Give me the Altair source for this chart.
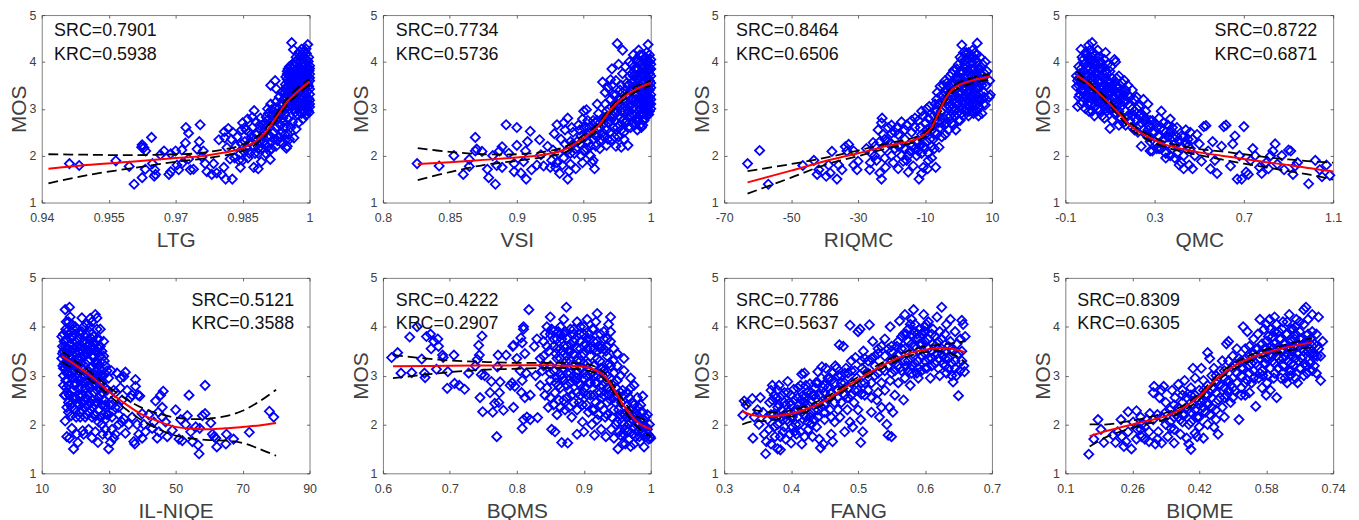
import altair as alt
import pandas as pd

LTG_PTS = [(.9462,1.83),(.9484,1.79),(.9566,1.89),(.9596,1.77),(.9607,1.39),(.9625,1.53),(.9625,2.23),(.9624,2.18),(.9629,2.17),(.9633,2.1),(.9632,1.71),(.9646,2.39),(.9648,1.83),(.9653,1.7),(.9655,1.6),(.9652,1.56),(.9666,2.02),(.9674,2.1),(.9685,1.6),(.9689,1.66),(.9689,2.04),(.97,2.1),(.9703,1.8),(.9707,1.7),(.9714,2.12),(.9722,2.27),(.9723,2.6),(.9729,2.48),(.9714,1.83),(.9729,1.93),(.9733,1.7),(.974,1.71),(.9755,2.66),(.9753,2.3),(.9748,2.14),(.9762,2.1),(.9759,1.97),(.9766,1.83),(.977,1.66),(.9781,1.6),(.9785,1.83),(.9792,1.63),(.9797,2.34),(.9803,1.6),(.9809,2.51),(.9818,2.58),(.9812,1.5),(.9827,1.5),(.9822,1.93),(.9815,2.17),(.981,2.38),(.9808,1.75),
(.9825,2.35),(.9835,2.2),(.9845,2.05),(.9848,2.55),(.985,2.7),(.9845,1.75),(.985,1.9),(.9855,2.3),(.986,2.15),(.9862,1.95),(.9865,2.5),(.9861,2.78),(.987,2.4),(.9872,2.6),(.9875,2.2),(.9875,1.75),(.9878,2.05),(.9882,2.45),(.9876,2.96),(.9885,1.72),(.9888,2.65),(.989,2.3),(.989,2.8),(.9892,1.87),(.9895,2.15),(.9898,2.5),(.99,2.7),(.99,2.25),(.9903,2.82),(.9905,2.4),(.991,2.1),(.991,2.6),(.9915,2.3),(.9918,2.75),(.992,2.5),(.9913,3.1),(.9912,1.92),(.9925,2.2),(.9925,2.9),(.9913,3.5),(.993,3.0),(.9932,2.4),(.9935,2.65),(.9923,3.6),(.9925,3.43),(.9935,3.1),(.994,2.8),(.9938,3.35),(.994,2.25),(.9941,2.95),(.9942,2.6),(.9945,2.45),(.995,2.2),(.9948,2.16),(.9955,2.35),(.9965,2.38),(.997,2.57),
(.9960,4.41),(.9964,4.26),(.9996,4.37),(.9982,4.27),(.9975,4.18),(.9986,4.2),(.9993,4.18),(.997,4.1),(.998,4.12),(.999,4.08),(.9998,4.1),(.9968,4.0),(.9978,4.02),(.9988,3.99),(.9997,4.01),(.9955,3.9),(.9964,3.92),(.9975,3.88),(.9985,3.91),(.9994,3.89),(1.0,3.92),(.995,3.8),(.996,3.78),(.997,3.82),(.998,3.79),(.999,3.8),(.9999,3.81),(.9947,3.68),(.9956,3.7),(.9966,3.67),(.9976,3.7),(.9986,3.68),(.9996,3.69),(.9952,3.58),(.9962,3.56),(.9972,3.59),(.9982,3.57),(.9992,3.58),(1.0,3.6),(.9948,3.46),(.9958,3.48),(.9968,3.45),(.9978,3.47),(.9988,3.46),(.9998,3.48),(.9945,3.35),(.9955,3.37),(.9965,3.34),(.9975,3.36),(.9985,3.35),(.9995,3.37),(.9948,3.24),(.9958,3.22),(.9968,3.25),(.9978,3.23),(.9988,3.24),(.9998,3.22),(.995,3.12),(.996,3.1),(.997,3.13),(.998,3.11),(.999,3.12),(1.0,3.1),(.9955,3.0),(.9965,2.98),(.9975,3.01),(.9985,2.99),(.9995,3.0),(.9972,2.88),(.9982,2.9),(.9992,2.86),(.9999,2.92),(.9962,2.72),(.9975,2.7),(.9985,2.78)]
LTG_EXTRA = [(.9978,4.22),(.9992,4.28),(.9974,4.06),(.9984,4.05),(.9994,4.04),(.9962,3.96),(.9972,3.95),(.9982,3.96),(.9992,3.95),(.9952,3.85),(.9962,3.85),(.9972,3.86),(.9982,3.84),(.9992,3.85),(1.0,3.86),(.995,3.74),(.996,3.74),(.997,3.75),(.998,3.74),(.999,3.75),(1.0,3.74),(.995,3.63),(.996,3.62),(.997,3.64),(.998,3.63),(.999,3.62),(1.0,3.66),(.9946,3.52),(.9956,3.53),(.9966,3.52),(.9976,3.53),(.9986,3.52),(.9996,3.53),(.9946,3.41),(.9958,3.42),(.997,3.41),(.998,3.42),(.999,3.41),(1.0,3.42),(.995,3.3),(.996,3.29),(.997,3.3),(.998,3.29),(.999,3.3),(1.0,3.31),(.9952,3.17),(.9962,3.18),(.9972,3.17),(.9982,3.18),(.9992,3.17),(1.0,3.18),(.9952,3.05),(.9962,3.05),(.9972,3.06),(.9982,3.05),(.9992,3.06),(1.0,3.04),(.9968,2.93),(.9978,2.94),(.9988,2.94),(.9997,2.96),
(.9885,2.15),(.9868,2.3),(.9878,2.35),(.989,2.55),(.988,2.72),(.9895,2.42),(.9905,2.62),(.9905,2.18),(.9912,2.42),(.9916,2.85),(.9925,2.6),(.993,2.8),(.9928,2.32),(.9922,3.02),(.9935,2.9),(.9932,3.25),(.9938,2.5),(.9942,3.2),(.9942,2.72),(.9945,3.02),(.9945,2.88),(.9948,2.6),(.9952,2.78),(.9958,2.6),(.9952,2.45),(.9906,3.0),(.9915,2.98),(.9925,3.15),(.9908,2.9),(.9898,2.3),(.9865,2.05),(.9858,2.55),(.9885,2.05),(.9855,2.6),(.9848,2.25),(.9838,2.4),(.9842,1.9),(.9832,1.95),(.9828,2.5),(.9872,2.82),(.9852,2.1),(.9895,2.65),(.9902,2.05),(.992,2.35),(.9935,2.3),(.9948,2.35),(.9925,2.78),(.9915,2.15),(.9942,3.1),(.9905,2.75)]
LTG_RED = [(.9415,1.72),(.95,1.8),(.96,1.87),(.97,1.95),(.975,1.98),(.98,2.05),(.984,2.13),(.987,2.25),(.99,2.48),(.993,2.88),(.995,3.15),(.998,3.42),(1.0,3.58)]
LTG_UP = [(.9415,2.03),(.95,2.02),(.96,2.01),(.97,2.03),(.975,2.05),(.98,2.12),(.984,2.2),(.987,2.33),(.99,2.56),(.993,2.95),(.995,3.22),(.998,3.5),(1.0,3.63)]
LTG_LO = [(.9415,1.41),(.95,1.58),(.96,1.73),(.97,1.87),(.975,1.92),(.98,1.99),(.984,2.07),(.987,2.18),(.99,2.42),(.993,2.82),(.995,3.09),(.998,3.36),(1.0,3.52)]

VSI_PTS = [(.8255,1.83),(.842,1.78),(.853,2.0),(.86,1.6),(.8645,1.77),(.8645,1.92),(.869,2.39),(.869,2.1),(.87,2.14),(.874,2.09),(.878,1.71),(.879,1.53),(.882,2.0),(.884,1.39),(.885,1.79),(.887,2.1),(.889,2.19),(.889,1.75),(.892,2.66),(.894,2.05),(.9,2.6),(.9,2.22),(.898,1.83),(.898,1.66),(.903,1.63),(.9065,2.1),(.907,1.5),(.91,2.52),(.908,2.3),(.905,1.87),(.911,1.7),(.917,2.34),(.915,1.8),(.918,2.02),(.92,1.78),(.923,2.2),(.925,1.75),(.927,2.12),(.928,2.47),(.93,2.66),(.93,1.85),(.932,1.62),(.933,2.35),(.935,2.7),(.935,1.95),(.936,2.55),(.937,2.1),(.938,1.5),(.938,2.8),(.939,1.67),(.94,2.3),(.94,1.82),(.942,2.5),(.943,2.05),(.944,1.72),(.946,2.65),(.947,2.25),(.948,2.42),(.949,2.78),(.95,2.95),(.95,2.1),(.949,1.85),(.952,2.98),(.952,2.6),(.953,2.3),(.955,2.0),(.955,2.5),(.957,2.75),(.957,1.9),(.958,1.72),(.959,2.2),(.96,2.4),(.96,3.1),(.961,2.9),(.962,2.6),(.962,2.15),(.964,2.8),(.964,3.57),(.965,2.4),(.966,3.35),(.966,3.1),(.967,2.22),(.968,2.7),(.968,3.45),(.969,3.0),(.97,2.5),(.97,3.62),(.971,3.85),(.972,2.85),(.972,3.3),(.973,2.4),(.974,3.6),(.974,2.2),(.975,4.39),(.975,3.1),(.976,3.95),(.977,2.65),(.977,3.4),(.978,2.18),(.978,2.95),(.979,4.25),(.979,3.75),(.98,2.5),(.98,3.2),(.981,3.9),(.982,2.75),(.982,3.55),(.983,2.22),(.984,3.05),(.984,4.0),(.985,2.6),(.985,3.4),(.986,3.75),(.986,2.9),(.987,4.15),(.987,3.2),(.988,2.65),(.988,3.6),(.989,4.05),(.989,3.0),(.99,2.55),(.99,3.85),(.99,3.3),(.991,4.25),(.991,2.8),(.992,3.5),(.992,4.0),(.993,3.1),(.993,2.6),(.993,3.75),(.994,4.15),(.994,2.9),(.995,3.35),(.995,3.9),(.995,3.6),(.996,4.1),(.996,3.05),(.997,2.85),(.997,3.5),(.997,3.8),(.998,4.37),(.998,4.0),(.998,3.2),(.998,3.65),(.999,2.95),(.999,3.4),(.999,4.15),(.9995,3.85),(1.0,3.1),(1.0,3.55),(1.0,3.95),(1.0,3.3),(.9985,3.05),(.9955,2.8),(.992,2.85),(.9905,3.55),(.9985,2.88),(.994,3.2),(.9925,3.25),(.987,3.45),(.983,3.3),(.979,2.75),(.975,2.6),(.971,2.35),(.967,2.55)]
VSI_EXTRA = [(.986,3.1),(.986,3.55),(.986,3.95),(.988,2.85),(.988,3.3),(.988,3.85),(.989,3.45),(.989,3.7),(.99,2.75),(.99,3.1),(.99,3.65),(.99,4.0),(.991,2.95),(.991,3.45),(.991,3.85),(.992,2.65),(.992,3.2),(.992,3.7),(.992,4.15),(.993,2.9),(.993,3.35),(.993,3.55),(.993,3.95),(.994,3.05),(.994,3.45),(.994,3.7),(.994,3.85),(.995,2.75),(.995,3.15),(.995,4.05),(.996,3.25),(.996,3.45),(.996,3.7),(.996,3.9),(.997,3.05),(.997,3.3),(.997,4.0),(.997,4.2),(.998,2.95),(.998,3.4),(.998,3.85),(.999,3.1),(.999,3.25),(.999,3.6),(.999,3.75),(.999,4.0),(1.0,3.0),(1.0,3.2),(1.0,3.45),(1.0,3.7),(1.0,3.85),(1.0,4.05),(.9965,2.95),(.9945,2.75),(.983,2.6),(.984,2.85),(.983,3.5),(.984,3.7),(.98,2.35),(.981,2.7),(.981,3.05),(.981,3.4),(.978,2.55),(.978,3.5),(.976,2.4),(.976,2.85),(.976,3.2),(.974,2.9),(.973,3.1),(.972,2.6),(.971,3.5),(.97,3.2),(.969,2.7),(.968,2.35),(.967,2.95),(.965,2.7),(.963,2.35),(.961,2.55),(.959,2.7),(.957,2.35),(.955,2.2),(.953,2.75),(.951,2.4),(.947,2.55),(.945,2.3),(.941,2.6),(.936,2.25),(.934,1.8),(.931,2.05),(.929,1.75),(.926,1.9),(.944,2.15),(.952,2.15),(.956,1.85),
(.985,3.2),(.987,3.0),(.987,3.7),(.989,3.2),(.989,2.75),(.991,3.15),(.991,3.65),(.992,3.0),(.993,3.2),(.994,2.65),(.995,3.0),(.995,3.75),(.996,2.95),(.997,3.65),(.998,3.1),(.999,3.5),(.982,3.15),(.983,2.95),(.98,2.95),(.979,3.35),(.977,3.05),(.975,2.95),(.974,3.3),(.973,2.75),(.971,2.8),(.97,2.75),(.966,2.8),(.964,2.5),(.96,2.75),(.958,2.45),(.954,2.6),(.95,2.6),(.948,2.0),(.942,2.25),(.94,2.05)]
VSI_RED = [(.826,1.82),(.85,1.86),(.875,1.91),(.9,1.96),(.92,2.02),(.935,2.12),(.95,2.38),(.96,2.6),(.97,2.98),(.98,3.25),(.99,3.43),(1.0,3.55)]
VSI_UP = [(.826,2.16),(.85,2.08),(.875,2.03),(.9,2.03),(.92,2.08),(.935,2.18),(.95,2.44),(.96,2.67),(.97,3.03),(.98,3.31),(.99,3.49),(1.0,3.6)]
VSI_LO = [(.826,1.48),(.85,1.65),(.875,1.8),(.9,1.89),(.92,1.97),(.935,2.06),(.95,2.32),(.96,2.54),(.97,2.92),(.98,3.19),(.99,3.38),(1.0,3.5)]

RIQMC_PTS = [(-63,1.83),(-59.4,2.11),(-56.8,1.39),(-46.5,1.79),(-43.2,1.9),(-42.2,1.6),(-41.7,1.7),(-39.5,1.56),(-37.8,2.09),(-38.8,1.8),(-38.3,1.63),(-36.3,1.5),(-35.8,1.8),(-34.8,1.7),(-33.8,2.19),(-32.8,2.24),(-33.3,2.1),(-31.3,2.1),(-31.3,1.8),(-30.3,1.7),(-30,1.88),(-27.5,2.15),(-26.5,1.7),(-26.3,1.85),(-25.5,2.28),(-25,2.0),(-24.5,1.9),(-23.5,1.63),(-23,1.5),(-23,2.7),(-22.8,2.8),(-22.5,2.45),(-22,2.15),(-21.8,1.75),(-21,2.6),(-20,2.0),(-20,2.48),(-19.5,1.85),(-18.5,2.6),(-18,1.72),(-17.5,2.2),(-17,2.72),(-16.5,1.88),(-16,2.35),(-15.5,2.65),(-15,1.65),(-14.5,2.1),(-14,2.5),(-13.5,1.78),(-13,2.8),(-12.5,2.0),(-12,2.3),(-11.8,1.5),(-11.5,2.6),(-11,2.95),(-11,1.62),(-10.5,1.75),(-10.3,2.2),(-10,2.45),(-9.8,2.7),(-9.5,3.0),(-9.2,1.72),(-9,2.05),(-8.7,3.05),(-8.5,2.35),(-8,2.55),(-8,1.95),(-7.5,2.85),(-7.2,2.15),(-7,3.1),(-6.8,1.75),(-6.5,2.45),(-6.3,3.35),(-6,2.7),(-5.8,2.18),(-5.5,3.48),(-5.2,2.95),(-5,2.4),(-4.5,3.2),(-4.2,2.65),(-4,3.6),(-3.5,2.85),(-3.2,3.4),(-3,2.55),(-2.8,3.05),(-2.5,3.7),(-2.2,3.25),(-2,2.7),(-1.8,3.55),(-1.5,3.82),(-1.2,2.95),(-1,3.4),(-.8,2.55),(-.5,3.15),(-.3,3.65),(0,3.95),(0,2.75),(.3,3.3),(.5,4.1),(.8,2.9),(1,3.55),(1,4.36),(1.2,3.8),(1.5,3.1),(1.8,3.95),(2,2.95),(2,3.45),(2.3,4.2),(2.5,3.7),(2.8,3.2),(3,4.05),(3.2,2.95),(3.5,3.55),(3.8,3.85),(4,3.3),(4.2,4.25),(4.5,2.9),(4.8,3.65),(5,4.05),(5,3.1),(5.3,4.15),(5.6,4.4),(5.8,3.45),(6,3.85),(6,2.85),(6.2,3.2),(6.5,4.1),(6.8,3.6),(7,2.9),(7.2,3.95),(7.5,3.35),(7.8,3.75),(8,3.08),(8,4.0),(8.3,3.5),(8.5,3.8),(9.3,3.6),(9.5,3.3),(9.2,3.25),(-1,3.0),(-2.5,2.85),(4,3.5),(2.5,3.0),(.5,3.5),(-3.5,3.55),(3,3.35),(5.2,3.7),(1.8,3.25),(-.5,2.9)]
RIQMC_EXTRA = [(-7,2.5),(-6.5,2.95),(-6,3.1),(-5.5,2.6),(-5,3.3),(-4.5,2.8),(-4,3.05),(-4,2.45),(-3.5,3.2),(-3,3.5),(-3,2.8),(-2.5,3.35),(-2,3.0),(-2,3.75),(-1.5,2.65),(-1.5,3.3),(-1,3.65),(-1,2.85),(-.5,3.45),(-.5,3.85),(0,3.1),(0,3.35),(0,3.65),(.5,2.75),(.5,3.2),(.5,3.8),(1,3.0),(1,3.35),(1,3.75),(1,4.05),(1.5,2.85),(1.5,3.55),(1.5,4.2),(2,3.15),(2,3.65),(2,3.85),(2,4.05),(2.5,3.35),(2.5,3.55),(3,2.85),(3,3.15),(3,3.55),(3,3.8),(3,4.2),(3.5,3.05),(3.5,3.4),(3.5,3.95),(3.5,4.1),(4,2.95),(4,3.7),(4,4.0),(4.5,3.2),(4.5,3.5),(4.5,3.85),(4.5,4.1),(5,3.3),(5,3.55),(5,3.85),(5,4.2),(5.5,2.95),(5.5,3.2),(5.5,3.6),(5.5,4.0),(6,3.05),(6,3.45),(6,3.65),(6.5,3.3),(6.5,3.85),(7,3.2),(7,3.5),(7,3.7),(7.5,3.1),(-13,2.6),(-12,2.75),(-12.5,2.3),(-11.5,2.2),(-11,2.45),(-10.5,2.85),(-10,2.15),(-9.5,2.55),(-9,2.8),(-9,1.9),(-8.5,2.6),(-8,2.2),(-7.5,2.35),(-15,2.0),(-15.5,1.9),(-14,2.2),(-16,2.55),(-17,2.0),(-18,2.45),(-19,2.15),(-20,2.65),(-21,2.3),(-22,1.95),(-23.5,2.3),(-24,2.55),(-25,2.2),(-26,2.05),
(-7.5,2.65),(-7,2.95),(-6.5,3.2),(-6,2.85),(-5.5,3.1),(-5,2.7),(-4.5,3.5),(-4,3.35),(-3.5,2.7),(-3,3.2),(-2.5,3.05),(-2,3.5),(-1.5,3.05),(-.5,3.25),(.2,3.2),(.7,3.65),(1.2,3.15),(1.7,3.4),(2.2,3.55),(2.7,3.9),(3.3,3.25),(3.7,3.7),(4.3,3.1),(4.7,3.4),(5.3,3.45),(5.7,3.1),(6.3,3.55),(6.7,3.75),(7.3,3.6),(7.7,3.25),(-14,2.75),(-13,2.15),(-16,2.15),(-18,2.2),(-20,2.25),(-19,2.5),(-22,2.35),(-11,2.05),(-12,2.1),(-9.5,2.3)]
RIQMC_RED = [(-63,1.43),(-50,1.68),(-40,1.88),(-30,2.05),(-20,2.23),(-15,2.3),(-12,2.37),(-10,2.45),(-8,2.6),(-6,2.9),(-4,3.2),(-2,3.4),(0,3.5),(4,3.6),(9.5,3.69)]
RIQMC_UP = [(-63,1.67),(-50,1.82),(-40,1.95),(-30,2.11),(-20,2.28),(-15,2.35),(-12,2.42),(-10,2.5),(-8,2.66),(-6,2.96),(-4,3.26),(-2,3.46),(0,3.56),(4,3.66),(9.5,3.75)]
RIQMC_LO = [(-63,1.19),(-50,1.53),(-40,1.8),(-30,1.99),(-20,2.18),(-15,2.25),(-12,2.32),(-10,2.4),(-8,2.54),(-6,2.84),(-4,3.14),(-2,3.34),(0,3.44),(4,3.54),(9.5,3.63)]

QMC_PTS = [(-.05,3.7),(-.05,3.47),(-.045,3.05),(-.04,3.9),(-.035,3.3),(-.03,4.27),(-.03,3.6),(-.025,3.15),(-.02,4.05),(-.02,3.4),(-.015,3.8),(-.01,3.0),(-.005,4.15),(-.005,3.55),(0,3.25),(0,3.9),(.005,4.36),(.005,2.95),(.01,3.65),(.015,4.0),(.015,3.1),(.02,4.41),(.02,3.4),(.025,4.2),(.03,2.85),(.03,3.75),(.035,3.2),(.04,3.95),(.04,3.5),(.045,3.0),(.05,4.1),(.05,3.3),(.055,2.95),(.06,3.7),(.065,3.15),(.07,3.9),(.07,3.45),(.075,2.8),(.08,4.2),(.085,3.25),(.09,3.6),(.095,3.0),(.1,2.58),(.1,3.8),(.105,3.35),(.11,2.75),(.115,3.1),(.12,4.05),(.12,3.55),(.125,4.0),(.13,2.9),(.135,3.3),(.14,2.65),(.14,3.7),(.15,3.05),(.155,3.55),(.16,2.7),(.165,3.6),(.17,3.2),(.18,2.85),(.18,3.5),(.19,3.05),(.2,2.6),(.2,3.4),(.21,3.2),(.22,2.75),(.225,2.5),(.23,3.05),(.24,2.2),(.25,3.2),(.25,2.85),(.26,2.45),(.27,3.1),(.275,2.65),(.28,2.3),(.29,2.1),(.3,2.5),(.31,2.15),(.32,2.8),(.33,2.95),(.34,2.35),(.35,2.05),(.36,2.65),(.37,2.78),(.38,2.15),(.38,2.4),(.39,1.95),(.4,2.6),(.41,2.3),(.42,1.85),(.43,2.0),(.44,2.55),(.45,2.35),(.455,1.8),(.46,2.15),(.47,1.72),(.48,2.0),(.49,2.45),(.5,2.25),(.51,1.88),(.52,2.62),(.53,2.64),(.54,2.1),(.55,1.72),(.56,2.3),(.57,1.9),(.58,1.62),(.6,2.2),(.61,2.62),(.62,2.65),(.64,1.78),(.65,2.25),(.66,2.42),(.67,1.5),(.68,2.0),(.69,1.5),(.7,2.62),(.71,1.65),(.72,1.6),(.73,1.9),(.74,2.15),(.75,2.0),(.77,1.75),(.78,1.62),(.8,1.85),(.81,1.72),(.82,2.0),(.83,2.1),(.84,2.25),(.85,1.82),(.87,2.0),(.88,1.7),(.9,2.12),(.91,2.1),(.92,1.6),(.93,1.78),(.94,1.85),(.99,1.4),(1.02,1.9),(1.04,1.7),(1.05,1.55),(1.07,1.8),(1.085,1.58),
(.4,2.05),(.42,2.42),(.44,2.25),(.46,2.5),(.33,2.15),(.31,2.6),(.29,2.75),(.27,2.4),(.24,2.7),(.22,3.25),(.2,3.0),(.16,3.3),(.14,3.45),(.11,3.65),(.08,3.8),(.06,4.0),(.04,3.25),(.02,3.7),(-.01,3.7),(.17,2.65),(.13,3.65),(.09,3.3),(.07,3.1),(.03,3.55),(.01,3.15),(.0,3.45)]
QMC_EXTRA = [(-.045,3.6),(-.04,3.25),(-.04,3.5),(-.035,3.75),(-.03,3.85),(-.03,3.1),(-.025,4.1),(-.025,3.5),(-.02,3.25),(-.015,3.95),(-.015,3.6),(-.01,4.2),(-.01,3.3),(-.005,3.85),(0,4.1),(0,3.7),(0,3.1),(.005,3.45),(.005,3.25),(.01,4.25),(.01,3.85),(.015,3.55),(.02,4.1),(.02,3.2),(.02,2.95),(.025,3.95),(.025,3.6),(.03,3.3),(.03,4.0),(.03,3.05),(.035,4.15),(.035,3.65),(.04,3.75),(.04,3.15),(.045,4.25),(.045,3.4),(.05,3.85),(.05,3.6),(.055,3.2),(.055,4.0),(.06,3.45),(.065,3.85),(.065,2.85),(.07,3.65),(.07,3.25),(.075,4.05),(.075,3.05),(.08,3.5),(.085,3.75),(.085,2.95),(.09,3.95),(.09,3.15),(.095,3.45),(.1,3.2),(.1,3.55),(.105,3.9),(.11,3.0),(.11,3.45),(.12,3.25),(.12,2.9),(.13,3.45),(.13,3.15),(.14,2.95),(.145,3.3),(.15,2.8),(.16,3.15),(.17,2.95),(.18,3.3),(.19,2.75),(.2,2.85),(.21,2.95),(.21,2.55),(.22,3.0),(.23,2.65),(.24,2.9),(.25,2.55),(.26,2.75),(.27,2.55),(.28,2.75),(.28,2.1),(.29,2.5),(.3,2.3),(.32,2.4),(.32,2.15),(.33,2.6),(.34,2.7),(.35,2.5),(.36,2.25),(.37,2.5),(.37,2.0),(.39,2.25),(.4,2.4),(.43,2.4),(.45,2.2),(.47,2.35),(.35,1.95),(.41,1.8),(.43,1.72),
(-.04,3.65),(-.03,3.4),(-.02,3.6),(-.01,3.5),(0,3.6),(.01,3.35),(.01,4.05),(.02,3.5),(.03,3.85),(.04,3.35),(.05,3.15),(.06,3.25),(.06,3.85),(.07,3.35),(.08,3.0),(.08,3.65),(.09,3.45),(.1,3.35),(.1,3.0),(.11,3.25),(.12,3.4),(.13,3.05),(.15,3.4),(.15,3.2),(.17,3.4),(.19,3.25),(.23,2.85),(.26,2.95),(.3,2.7),(.34,2.55),(.38,2.6),(.42,2.2),(.36,2.4)]
QMC_RED = [(-.05,3.72),(0,3.55),(.1,3.1),(.15,2.85),(.2,2.6),(.3,2.33),(.35,2.23),(.4,2.17),(.5,2.07),(.6,2.0),(.7,1.93),(.8,1.86),(.9,1.8),(1.0,1.73),(1.1,1.66)]
QMC_UP = [(-.05,3.8),(0,3.6),(.1,3.16),(.15,2.9),(.2,2.66),(.3,2.38),(.35,2.29),(.4,2.23),(.5,2.14),(.6,2.09),(.7,2.03),(.8,1.97),(.9,1.92),(1.0,1.88),(1.1,1.85)]
QMC_LO = [(-.05,3.65),(0,3.5),(.1,3.05),(.15,2.79),(.2,2.54),(.3,2.27),(.35,2.18),(.4,2.11),(.5,2.01),(.6,1.92),(.7,1.83),(.8,1.75),(.9,1.67),(1.0,1.59),(1.1,1.49)]

NIQE_PTS = [(16,3.8),(16,3.35),(16.5,3.0),(16.8,2.6),(17,4.35),(17,3.6),(17,2.07),(17.2,3.95),(17.5,1.75),(17.5,2.35),(17.8,3.2),(18,4.1),(18,2.8),(18.3,4.4),(18.3,1.72),(18.5,3.5),(18.8,2.18),(19,3.8),(19,3.05),(19,1.92),(19.5,2.55),(19.5,1.5),(19.8,3.3),(20,4.0),(20,2.3),(20,2.85),(20.5,1.8),(20.5,3.6),(20.8,1.63),(21,3.1),(21.2,2.6),(21.5,3.85),(21.5,2.15),(22,4.18),(22,3.35),(22.2,1.87),(22.5,2.85),(22.5,1.8),(23,3.65),(23,2.35),(23.5,4.05),(23.5,3.1),(24,2.6),(24,1.9),(24.5,4.17),(24.5,3.5),(25,1.73),(25,2.15),(25.2,2.95),(25.5,3.8),(25.8,2.4),(26,4.25),(26,1.85),(26.3,3.3),(26.5,4.18),(26.5,2.7),(26.8,1.63),(27,3.55),(27,2.05),(27.5,3.95),(27.5,3.0),(28,2.4),(28,2.0),(28.2,1.8),(28.5,3.7),(28.7,3.3),(29,2.75),(29,1.9),(29.5,3.1),(29.5,2.2),(29.8,1.78),(30,2.95),(30,1.5),(30.2,2.4),(30.5,1.63),(30.8,3.1),(31,2.15),(31,1.9),(31.5,2.7),(31.5,1.72),(32,1.8),(32.5,3.05),(33,2.35),(33,2),(33.5,2.95),(33.5,2.75),(34,2.5),(34,2.05),(34.5,2.98),(34.5,2.12),(35,1.82),(35,3.07),(35.5,2.7),(36,2.0),(36.5,2.55),(37,2.6),(37,2.15),(37.5,1.65),(37.8,1.6),(38,2.92),(38,2.78),(38.5,2.0),(38.8,2.6),(39,1.8),(39.3,2.58),(40,2.22),(40,1.72),(40.5,2),(41,1.85),(42,2.2),(43,1.92),(43.5,2.05),(44,2.48),(44.5,1.72),(44.8,2.25),(45,1.85),(45.5,2.6),(46,2.35),(46,2.15),(46.3,2.68),(47,2.05),(47.5,1.75),(49,1.88),(50,2.3),(51,1.7),(51.5,2.1),(52,1.67),(53,2.0),(53.5,2.18),(54,2.6),(54.5,1.85),(55,1.65),(56,1.95),(56.7,1.58),(57,1.4),(57.2,1.92),(58,2.18),(58.8,2.22),(58.8,2.8),(60.5,2.03),(61,1.8),(61.5,1.75),(62,1.72),(62.3,1.54),(65,1.6),(65.2,1.8),(67.3,1.7),(72,1.84),(78,2.27),(79.3,2.15),
(17,3.15),(17.5,3.75),(18,2.45),(18.5,3.0),(19,4.05),(19.5,3.55),(20,3.45),(20.5,3.95),(21,2.4),(21.5,2.9),(22,2.6),(22.5,3.7),(23,3.0),(23.5,2.2),(24,3.3),(24.5,2.75),(25,3.6),(25.5,2.2),(26,3.0),(26.5,3.75),(27,2.55),(27.5,3.4),(16.5,3.5),(17.2,2.9),(18.2,3.4),(19.2,2.7),(20.2,3.2),(21.2,3.6),(22.2,3.15),(23.2,3.85),(24.2,3.9),(25.2,3.2),(26.2,2.45),(27.2,2.85)]
NIQE_EXTRA = [(16.2,3.6),(16.3,3.2),(16.5,3.85),(16.5,2.8),(17,3.4),(17,2.6),(17.3,4.1),(17.5,3.55),(17.5,3.05),(17.8,2.65),(18,3.85),(18,3.25),(18,2.25),(18.5,4.2),(18.5,3.65),(18.5,2.6),(18.8,3.25),(19,3.5),(19,2.95),(19,2.35),(19.5,3.95),(19.5,3.1),(19.7,2.8),(20,3.7),(20,2.55),(20.3,2.15),(20.5,3.35),(20.5,2.95),(21,3.75),(21,3.35),(21,2.75),(21.3,2.25),(21.5,3.55),(21.5,2.55),(22,3.9),(22,3.6),(22,2.95),(22,2.3),(22.5,3.4),(22.5,2.5),(22.5,4.0),(23,3.45),(23,2.75),(23,2.15),(23.5,3.6),(23.5,2.9),(23.5,2.5),(24,3.75),(24,3.5),(24,3.0),(24,2.25),(24.5,3.15),(24.5,2.45),(24.5,4.0),(25,3.4),(25,2.8),(25,2.5),(25,4.1),(25.5,3.55),(25.5,3.05),(25.5,2.65),(26,3.65),(26,3.25),(26,2.8),(26,2.2),(26.5,3.95),(26.5,3.5),(26.5,3.1),(26.5,2.45),(27,3.75),(27,3.2),(27,2.3),(27.5,3.6),(27.5,2.75),(27.5,2.15),(28,3.5),(28,3.1),(28,2.65),(28.5,3.0),(28.5,2.5),(29,3.2),(29,2.4),(29,2.1),(29.5,2.7),(30,2.6),(30,2.2),(31,2.4),(32,2.35),(32,2.65),(33,2.2),
(16.2,3.45),(16.7,3.7),(16.8,3.25),(17.3,2.75),(17.5,3.9),(18,3.55),(18,3.05),(18.3,2.6),(18.7,3.75),(19,3.35),(19.2,2.45),(19.5,2.95),(20,3.1),(20,3.85),(20.5,3.15),(20.7,2.45),(21,3.5),(21.2,2.9),(21.7,3.25),(22,2.75),(22.2,2.45),(22.7,3.55),(23,3.25),(23.2,2.55),(23.7,3.45),(24,2.8),(24,2.4),(24.3,3.65),(24.8,2.95),(25,3.75),(25.3,2.35),(25.7,3.4),(26,3.5),(26.2,2.95),(26.7,3.25),(27,2.95),(27.2,3.6),(27.7,2.6),(28,2.85),(28.5,3.4),(18.5,2.4),(17.7,3.3),(16.5,3.15),(28.5,2.2)]
NIQE_RED = [(16,3.4),(20,3.22),(25,2.97),(30,2.68),(35,2.42),(40,2.2),(45,2.06),(50,1.95),(55,1.91),(60,1.9),(65,1.92),(70,1.95),(75,1.98),(80,2.03)]
NIQE_UP = [(16,3.5),(20,3.3),(25,3.05),(30,2.77),(35,2.53),(40,2.34),(45,2.22),(50,2.14),(55,2.11),(60,2.12),(65,2.17),(70,2.28),(75,2.47),(80,2.71)]
NIQE_LO = [(16,3.28),(20,3.12),(25,2.88),(30,2.6),(35,2.32),(40,2.08),(45,1.9),(50,1.77),(55,1.71),(60,1.68),(65,1.67),(70,1.62),(75,1.5),(80,1.36)]

BQMS_PTS = [(.613,3.37),(.622,3.47),(.627,3.05),(.64,3.79),(.643,3.06),(.651,4.0),(.658,3.34),(.662,3.05),(.663,2.96),(.665,3.8),(.671,3.85),(.672,3.55),(.676,3.7),(.68,3.13),(.682,3.75),(.683,3.6),(.689,3.42),(.69,3.37),(.696,2.74),(.697,3.08),(.706,3.42),(.707,2.84),(.714,2.8),(.722,2.72),(.728,3.05),(.738,3.2),(.741,3.33),(.743,3.62),(.744,3.42),(.745,2.55),(.747,3.02),(.748,3.81),(.749,2.26),(.752,3.0),(.76,2.65),(.762,2.88),(.764,2.25),(.767,2.43),(.77,1.75),(.771,3.18),(.772,3.42),(.773,2.45),(.774,2.65),(.775,2.87),(.78,2.29),(.784,3.42),(.79,2.8),(.793,2.85),(.794,3.6),(.795,3.62),(.795,2.35),(.797,2.78),(.8,3.35),(.805,3.1),(.806,3.77),(.807,2.65),(.808,3.67),(.808,2.9),(.808,1.92),(.81,4.0),(.81,3.95),(.81,2.1),(.812,3.45),(.812,2.55),(.814,3.05),(.815,2.15),(.818,4.35),(.82,2.6),(.82,2.1),(.826,3.6),(.828,3.0),(.83,3.75),(.831,2.14),(.835,2.8),(.84,3.4),(.842,2.6),(.845,4.0),(.847,2.35),(.85,3.2),(.85,4.2),(.852,1.9),(.855,3.6),(.857,1.85),(.858,2.85),(.86,2.2),(.862,3.9),(.863,2.5),(.866,3.0),(.867,1.63),(.868,3.5),(.87,4.15),(.872,2.3),(.874,4.4),(.875,3.75),(.876,1.62),(.878,2.7),(.88,3.3),(.882,2.15),(.885,3.95),(.887,2.9),(.89,1.8),(.89,4.1),(.893,2.45),(.895,3.55),(.897,3.15),(.898,2.05),(.9,1.85),(.9,3.85),(.902,2.75),(.905,4.15),(.907,2.25),(.91,3.4),(.912,2.0),(.913,3.95),(.915,2.6),(.916,1.78),(.918,4.1),(.92,3.0),(.92,2.1),(.92,4.27),(.923,3.6),(.925,2.4),(.926,1.9),(.928,2.8),(.93,3.75),(.932,2.15),(.933,1.75),(.935,3.4),(.937,4.05),(.938,2.6),(.94,4.2),(.94,2.95),(.941,1.9),(.945,2.3),(.945,1.72),(.948,2.75),(.95,3.45),(.95,2.05),(.951,1.5),(.955,1.78),(.956,2.45),(.958,2.7),(.96,3.35),(.96,2.0),(.96,3.1),(.962,1.6),(.964,2.25),(.966,1.85),(.968,2.55),(.97,2.95),(.97,1.55),(.972,2.1),(.975,2.8),(.975,2.4),(.977,1.75),(.98,2.2),(.982,2.0),(.984,1.65),(.985,2.4),(.987,1.85),(.988,2.58),(.99,2.1),(.99,1.54),(.993,1.95),(.995,2.2),(.996,1.8),(.998,2.0),(.999,1.75),(1.0,1.72),
(.84,3.7),(.85,2.9),(.855,2.4),(.86,3.35),(.865,4.0),(.87,3.15),(.875,2.55),(.88,3.65),(.885,3.2),(.89,2.65),(.895,4.0),(.9,3.45),(.905,3.0),(.91,3.75),(.915,2.3),(.92,3.35),(.925,2.95),(.93,3.1),(.935,2.45),(.94,3.7),(.945,3.05),(.95,2.6),(.955,2.2),(.96,1.8),(.965,2.65),(.97,2.3),(.975,1.95),(.98,2.55),(.985,2.1),(.99,1.8),(.855,3.9),(.865,3.55),(.875,3.05),(.885,3.7),(.895,3.3),(.905,3.55),(.915,3.2),(.925,3.85),(.935,3.0),(.945,2.55)]
BQMS_EXTRA = [(.835,3.35),(.838,3.1),(.842,3.85),(.845,2.75),(.848,3.5),(.85,2.55),(.852,3.95),(.855,3.1),(.857,2.65),(.858,3.45),(.86,3.75),(.862,2.8),(.863,3.2),(.865,2.35),(.867,3.75),(.868,2.95),(.87,3.6),(.87,2.5),(.872,3.9),(.874,3.3),(.875,2.8),(.877,3.5),(.878,2.35),(.88,3.95),(.88,3.05),(.882,2.6),(.884,3.45),(.885,2.45),(.887,3.75),(.889,3.05),(.89,3.55),(.89,2.3),(.892,2.85),(.894,3.85),(.895,2.6),(.897,3.4),(.898,2.4),(.9,3.05),(.9,2.65),(.902,3.65),(.904,2.4),(.906,3.25),(.907,2.85),(.908,3.85),(.91,2.6),(.912,3.05),(.913,2.3),(.915,3.55),(.917,2.85),(.918,2.45),(.92,3.7),(.92,2.65),(.922,2.2),(.924,3.3),(.925,3.55),(.927,2.55),(.928,3.15),(.93,2.3),(.93,3.9),(.932,2.85),(.933,3.5),(.935,2.2),(.935,3.75),(.937,2.75),(.938,3.25),(.94,2.5),(.94,3.9),(.942,2.15),(.944,3.3),(.945,2.85),(.947,2.45),(.948,2.0),(.95,2.9),(.952,2.3),(.953,1.85),(.955,2.65),(.957,2.05),(.958,1.6),(.96,2.6),(.962,2.2),(.962,1.9),(.965,2.4),(.967,2.0),(.968,1.7),(.97,2.75),(.972,2.45),(.973,1.8),(.975,1.6),(.977,2.25),(.978,2.0),(.98,1.85),(.982,2.35),(.983,1.75),(.985,1.9),(.988,2.25),(.99,1.95),(.992,2.15),(.993,1.75),(.995,1.9),(.997,1.7),
(.84,3.2),(.845,3.6),(.85,3.05),(.855,3.75),(.86,2.95),(.86,3.55),(.865,3.35),(.865,2.75),(.87,3.85),(.87,2.9),(.875,3.4),(.875,3.6),(.88,2.85),(.88,3.5),(.885,3.0),(.885,3.85),(.89,3.3),(.89,2.95),(.895,3.7),(.895,2.8),(.9,3.25),(.9,2.95),(.905,3.75),(.905,2.6),(.91,3.55),(.91,2.85),(.915,3.7),(.915,3.0),(.92,3.5),(.92,2.85),(.925,3.15),(.925,2.65),(.93,3.55),(.93,2.6),(.935,3.6),(.935,2.75),(.94,3.2),(.94,2.7),(.945,3.55),(.95,3.2),(.955,3.0),(.85,3.85),(.9,4.0),(.865,3.85),(.915,3.95),(.96,2.2),(.965,2.15),(.97,2.05),(.975,2.15),(.98,2.05),(.985,2.25)]
BQMS_RED = [(.615,3.19),(.7,3.2),(.8,3.21),(.85,3.21),(.88,3.2),(.91,3.15),(.93,3.0),(.95,2.6),(.96,2.38),(.97,2.2),(.98,2.05),(.99,1.96),(1.0,1.91)]
BQMS_UP = [(.615,3.42),(.65,3.37),(.7,3.31),(.75,3.28),(.8,3.26),(.85,3.26),(.88,3.26),(.91,3.22),(.93,3.07),(.95,2.68),(.96,2.47),(.97,2.3),(.98,2.16),(.99,2.1),(1.0,2.08)]
BQMS_LO = [(.615,2.95),(.65,3.0),(.7,3.07),(.75,3.12),(.8,3.14),(.85,3.16),(.88,3.15),(.91,3.09),(.93,2.93),(.95,2.52),(.96,2.3),(.97,2.1),(.98,1.95),(.99,1.83),(1.0,1.76)]

FANG_PTS = [(.328,2.19),(.33,2.48),(.333,2.4),(.342,2.53),(.343,1.72),(.345,2.15),(.35,2.3),(.352,2.0),(.354,2.55),(.358,2.25),(.36,1.8),(.362,1.4),(.363,1.65),(.365,2.1),(.367,1.9),(.368,2.45),(.37,2.7),(.37,1.6),(.372,2.8),(.374,2.2),(.376,1.75),(.378,2.55),(.38,1.5),(.38,2.0),(.382,2.8),(.384,1.48),(.386,2.3),(.388,1.85),(.39,2.65),(.392,1.7),(.394,2.1),(.395,2.88),(.398,2.45),(.4,1.62),(.402,1.95),(.404,2.72),(.406,2.25),(.408,1.8),(.41,2.55),(.412,2.0),(.414,2.8),(.416,3.03),(.416,1.6),(.418,2.35),(.42,3.05),(.42,1.75),(.422,2.15),(.424,2.65),(.426,1.9),(.428,2.83),(.43,2.45),(.432,1.75),(.434,2.1),(.436,2.75),(.438,1.95),(.44,3.08),(.44,2.5),(.442,1.7),(.444,1.52),(.446,3.18),(.448,1.6),(.45,2.8),(.45,2.25),(.452,3.15),(.455,2.55),(.458,2.95),(.46,1.8),(.462,1.65),(.465,2.05),(.466,3.2),(.468,2.7),(.47,3.0),(.472,3.63),(.473,2.15),(.475,2.45),(.478,3.6),(.48,2.85),(.48,1.85),(.482,3.15),(.484,2.3),(.486,2.75),(.488,2.05),(.488,4.03),(.49,3.3),(.492,1.95),(.494,2.45),(.496,3.37),(.498,2.95),(.5,2.3),(.5,3.9),(.503,3.95),(.504,1.63),(.504,2.1),(.505,2.62),(.506,3.15),(.507,1.85),(.508,3.5),(.51,2.85),(.515,3.3),(.517,4.04),(.52,2.55),(.52,2.25),(.522,3.7),(.525,3.0),(.528,2.5),(.53,3.45),(.532,2.15),(.535,2.35),(.537,3.15),(.54,3.75),(.54,2.7),(.543,2.0),(.545,1.78),(.547,2.35),(.548,4.0),(.55,3.3),(.55,1.75),(.552,2.25),(.555,2.6),(.558,3.6),(.56,2.85),(.562,4.12),(.565,3.1),(.568,2.5),(.57,4.25),(.572,3.85),(.575,3.3),(.578,2.8),(.58,4.15),(.583,4.35),(.585,3.6),(.588,3.05),(.59,2.95),(.592,3.95),(.595,3.4),(.598,4.25),(.6,3.7),(.603,3.15),(.605,4.1),(.608,2.95),(.61,3.5),(.612,3.95),(.615,3.25),(.618,4.2),(.62,3.7),(.622,3.0),(.625,4.4),(.627,3.4),(.63,3.85),(.632,3.05),(.635,3.6),(.638,4.15),(.64,3.25),(.642,2.87),(.645,3.9),(.647,3.0),(.65,2.59),(.65,3.45),(.653,3.75),(.655,4.13),(.657,4.05),(.658,3.2),(.659,3.08),(.66,3.8),
(.56,3.4),(.57,3.55),(.58,3.2),(.59,3.5),(.6,3.3),(.61,3.85),(.62,3.35),(.63,3.2),(.59,3.75),(.575,3.95),(.55,3.6),(.53,3.05),(.52,3.35),(.51,3.1),(.47,2.55),(.46,2.9),(.44,2.85),(.43,2.65),(.41,2.3),(.4,2.4),(.39,2.2),(.38,2.35),(.37,2.2),(.42,2.45),(.45,2.65),(.49,2.85),(.6,3.9),(.6,4.0),(.585,3.9),(.595,3.65),(.58,3.65)]
FANG_EXTRA = [(.372,2.5),(.375,1.95),(.378,2.15),(.382,2.4),(.384,1.75),(.386,2.6),(.388,2.1),(.39,1.95),(.392,2.4),(.396,2.25),(.398,1.8),(.4,2.6),(.402,2.15),(.405,2.5),(.407,2.0),(.41,2.75),(.412,2.4),(.414,1.85),(.418,2.6),(.42,2.2),(.422,2.8),(.425,2.4),(.428,2.15),(.43,2.0),(.432,2.6),(.435,2.3),(.437,2.85),(.44,2.15),(.442,2.6),(.445,2.35),(.448,2.75),(.45,2.1),(.452,2.45),(.455,2.95),(.458,2.3),(.46,2.65),(.462,3.05),(.465,2.45),(.468,3.15),(.47,2.3),(.475,3.0),(.48,2.6),(.485,3.05),(.49,2.6),(.495,3.1),(.5,2.7),(.505,3.3),(.51,2.6),(.515,3.05),(.52,2.85),(.525,3.4),(.53,2.65),(.535,3.6),(.54,3.1),(.545,3.55),(.548,2.9),(.55,3.05),(.555,3.35),(.56,3.7),(.562,3.15),(.565,3.55),(.568,3.85),(.57,2.95),(.572,3.2),(.575,3.7),(.578,4.05),(.58,3.05),(.582,3.45),(.585,3.25),(.588,3.85),(.59,3.3),(.592,3.65),(.595,3.1),(.598,3.9),(.6,3.45),(.602,4.05),(.605,3.35),(.605,3.75),(.61,3.2),(.612,3.65),(.615,3.8),(.618,3.45),(.62,3.15),(.622,3.9),(.625,3.55),(.628,3.25),(.63,3.5),(.632,4.05),(.635,3.35),(.638,3.7),(.64,3.0),(.642,3.5),(.645,3.3),(.648,3.65),(.652,3.1),(.655,3.5),
(.375,2.6),(.38,2.7),(.385,2.15),(.39,2.45),(.395,2.65),(.4,2.15),(.405,1.85),(.41,2.15),(.415,2.5),(.42,2.55),(.425,2.05),(.43,2.25),(.435,2.6),(.44,2.3),(.445,2.95),(.45,2.4),(.455,2.75),(.46,2.15),(.465,2.85),(.47,2.7),(.475,2.85),(.48,3.05),(.485,2.55),(.49,3.1),(.495,2.7),(.505,2.85),(.51,3.35),(.515,2.7),(.525,3.2),(.53,3.55),(.535,2.85),(.54,3.4),(.545,3.2),(.55,3.5),(.555,3.1),(.56,3.2),(.565,3.8),(.57,3.3),(.575,3.1),(.58,3.85),(.585,4.05),(.59,3.15),(.595,3.85),(.6,3.15),(.605,3.55),(.61,3.35),(.615,3.6),(.62,3.55),(.625,3.75),(.63,3.35),(.635,3.15),(.64,3.55),(.645,3.15),(.655,3.3)]
FANG_RED = [(.327,2.27),(.34,2.2),(.36,2.17),(.38,2.18),(.4,2.22),(.42,2.3),(.45,2.48),(.48,2.75),(.5,2.92),(.52,3.08),(.55,3.3),(.58,3.47),(.6,3.53),(.62,3.56),(.64,3.55),(.66,3.48)]
FANG_UP = [(.327,2.52),(.34,2.33),(.36,2.26),(.38,2.25),(.4,2.29),(.42,2.37),(.45,2.54),(.48,2.8),(.5,2.97),(.52,3.14),(.55,3.36),(.58,3.53),(.6,3.6),(.62,3.63),(.64,3.66),(.66,3.7)]
FANG_LO = [(.327,2.0),(.34,2.06),(.36,2.07),(.38,2.11),(.4,2.16),(.42,2.24),(.45,2.42),(.48,2.7),(.5,2.87),(.52,3.03),(.55,3.25),(.58,3.42),(.6,3.48),(.62,3.5),(.64,3.45),(.66,3.27)]

BIQME_PTS = [(.156,1.39),(.168,1.7),(.178,2.1),(.185,1.9),(.192,1.63),(.214,1.78),(.22,1.63),(.225,1.85),(.233,2.1),(.235,1.75),(.24,1.55),(.245,1.65),(.25,2.26),(.25,1.85),(.258,1.5),(.262,2.05),(.27,2.28),(.272,1.9),(.28,2.15),(.282,1.75),(.285,2.02),(.29,1.7),(.295,2.1),(.3,1.65),(.302,2.22),(.31,2.65),(.312,2.78),(.315,1.6),(.32,2.2),(.322,1.85),(.325,2.55),(.33,2.7),(.33,1.62),(.335,2.78),(.34,2.45),(.34,2.0),(.345,1.75),(.35,2.3),(.352,1.92),(.355,2.7),(.36,1.62),(.362,2.55),(.365,2.2),(.37,2.82),(.375,1.8),(.38,2.45),(.38,2.05),(.385,2.9),(.39,1.72),(.392,2.3),(.395,1.6),(.4,1.49),(.4,2.6),(.405,3.15),(.41,2.95),(.41,1.82),(.415,2.15),(.42,1.95),(.42,2.4),(.425,3.15),(.43,1.72),(.43,2.7),(.435,2.25),(.44,3.47),(.44,2.0),(.445,3.35),(.45,2.55),(.455,1.95),(.455,3.15),(.46,2.3),(.465,1.8),(.47,2.8),(.475,3.3),(.48,2.15),(.48,2.55),(.485,3.65),(.49,2.9),(.49,3.7),(.495,2.45),(.5,3.15),(.505,2.7),(.51,3.55),(.515,2.1),(.52,3.0),(.525,4.0),(.53,2.6),(.535,3.9),(.54,3.4),(.545,2.85),(.55,3.75),(.555,2.37),(.56,3.2),(.565,4.15),(.57,2.75),(.575,3.55),(.58,4.05),(.58,2.6),(.585,3.0),(.59,2.7),(.595,3.8),(.6,4.2),(.6,3.25),(.605,2.55),(.61,3.6),(.615,2.95),(.62,4.1),(.625,3.4),(.63,2.85),(.635,4.25),(.64,3.7),(.64,3.1),(.645,3.95),(.65,3.35),(.655,2.85),(.66,4.1),(.665,3.55),(.67,4.35),(.67,3.0),(.675,4.4),(.68,3.85),(.685,3.25),(.69,4.25),(.695,3.65),(.7,3.05),(.705,4.2),(.71,3.4),(.715,3.7),(.71,2.9),
(.52,3.3),(.54,3.05),(.56,3.55),(.58,3.35),(.6,3.65),(.62,3.5),(.64,3.4),(.66,3.75),(.68,3.5),(.7,3.6),(.59,3.95),(.61,3.9),(.63,3.85),(.65,4.0),(.67,3.65),(.69,3.9),(.46,2.65),(.48,2.75),(.44,2.4),(.42,2.7),(.5,2.55),(.52,2.75),(.54,2.65),(.38,2.6),(.36,2.4),(.34,2.25),(.4,2.25),(.32,1.7),(.3,1.85),(.28,1.9),(.46,3.0),(.5,3.4),(.53,3.55),(.55,3.45),(.57,3.1)]
BIQME_EXTRA = [(.55,3.1),(.555,3.55),(.56,3.85),(.562,2.95),(.565,3.35),(.57,3.65),(.572,3.0),(.575,3.95),(.578,3.25),(.58,3.7),(.582,2.85),(.585,3.5),(.588,4.15),(.59,3.15),(.592,3.6),(.595,3.3),(.598,2.95),(.6,3.9),(.602,3.5),(.605,4.05),(.608,3.15),(.61,3.35),(.612,3.75),(.615,3.5),(.618,3.95),(.62,3.2),(.622,3.65),(.625,2.95),(.628,3.85),(.63,4.1),(.632,3.3),(.635,3.6),(.638,3.0),(.64,3.95),(.642,3.5),(.645,3.2),(.648,3.75),(.65,2.95),(.652,4.15),(.655,3.6),(.658,3.3),(.66,3.9),(.663,3.15),(.665,3.75),(.668,3.4),(.67,4.05),(.672,3.25),(.675,3.7),(.678,3.05),(.68,4.15),(.683,3.55),(.686,3.75),(.69,3.1),(.692,3.45),(.695,3.2),(.7,3.85),(.702,3.4),(.705,3.55),(.35,2.05),(.36,2.15),(.37,2.35),(.375,2.1),(.38,2.7),(.385,2.2),(.39,2.55),(.395,2.0),(.4,2.75),(.405,2.4),(.41,2.6),(.415,1.75),(.42,2.15),(.425,2.45),(.43,2.9),(.435,2.6),(.44,2.8),(.445,2.2),(.45,3.0),(.455,2.75),(.46,2.1),(.465,2.5),(.47,3.1),(.475,2.35),(.48,2.95),(.485,2.6),(.49,3.3),(.495,2.8),(.5,2.95),(.505,3.2),(.51,2.85),(.515,3.35),(.52,2.6),(.525,3.15),(.53,3.35),(.535,2.9),(.54,3.6),(.545,3.25),(.31,2.1),(.33,2.15),(.27,1.7),(.29,1.95),
(.555,3.25),(.565,3.05),(.57,3.45),(.575,3.25),(.58,3.55),(.585,3.8),(.59,3.4),(.595,3.55),(.6,3.05),(.605,3.4),(.61,3.15),(.615,3.75),(.62,3.35),(.625,3.65),(.63,3.45),(.635,3.1),(.64,3.25),(.645,3.6),(.65,3.85),(.655,3.45),(.66,3.15),(.665,3.35),(.67,3.5),(.675,3.2),(.68,3.7),(.685,3.45),(.69,3.6),(.695,3.4),(.36,1.9),(.37,2.15),(.38,2.2),(.39,2.35),(.4,2.05),(.41,2.3),(.42,2.5),(.43,2.35),(.44,2.6),(.45,2.35),(.46,2.85),(.47,2.55),(.48,3.1),(.49,2.7),(.5,2.75),(.51,3.05),(.52,3.15),(.53,2.85),(.54,3.2),(.55,2.95)]
BIQME_RED = [(.158,1.76),(.2,1.87),(.26,2.0),(.3,2.08),(.34,2.17),(.38,2.33),(.42,2.57),(.46,2.92),(.5,3.18),(.54,3.35),(.58,3.47),(.62,3.56),(.66,3.63),(.69,3.68)]
BIQME_UP = [(.158,2.0),(.18,2.0),(.2,2.0),(.26,2.08),(.3,2.15),(.34,2.24),(.38,2.38),(.42,2.63),(.46,2.98),(.5,3.24),(.54,3.41),(.58,3.53),(.62,3.62),(.66,3.71),(.69,3.77)]
BIQME_LO = [(.158,1.55),(.2,1.75),(.26,1.93),(.3,2.02),(.34,2.11),(.38,2.27),(.42,2.51),(.46,2.86),(.5,3.12),(.54,3.29),(.58,3.41),(.62,3.49),(.66,3.55),(.69,3.58)]

Y_TICKS = [1, 2, 3, 4, 5]
GREY = "#404040"
FONT = "Liberation Sans"

PANELS = [
    ("LTG", LTG_PTS + LTG_EXTRA, LTG_RED, LTG_UP, LTG_LO, [.94, 1], [.94, .955, .97, .985, 1], "SRC=0.7901", "KRC=0.5938", 12.5, 189, 16),
    ("VSI", VSI_PTS + VSI_EXTRA, VSI_RED, VSI_UP, VSI_LO, [.8, 1], [.8, .85, .9, .95, 1], "SRC=0.7734", "KRC=0.5736", 13, 189, 16),
    ("RIQMC", RIQMC_PTS + RIQMC_EXTRA, RIQMC_RED, RIQMC_UP, RIQMC_LO, [-70, 10], [-70, -50, -30, -10, 10], "SRC=0.8464", "KRC=0.6506", 12, 189, 16),
    ("QMC", QMC_PTS + QMC_EXTRA, QMC_RED, QMC_UP, QMC_LO, [-.1, 1.1], [-.1, .3, .7, 1.1], "SRC=0.8722", "KRC=0.6871", 150.5, 189, 16),
    ("IL-NIQE", NIQE_PTS + NIQE_EXTRA, NIQE_RED, NIQE_UP, NIQE_LO, [10, 90], [10, 30, 50, 70, 90], "SRC=0.5121", "KRC=0.3588", 151, 197, 23),
    ("BQMS", BQMS_PTS + BQMS_EXTRA, BQMS_RED, BQMS_UP, BQMS_LO, [.6, 1], [.6, .7, .8, .9, 1], "SRC=0.4222", "KRC=0.2907", 13, 197, 23),
    ("FANG", FANG_PTS + FANG_EXTRA, FANG_RED, FANG_UP, FANG_LO, [.3, .7], [.3, .4, .5, .6, .7], "SRC=0.7786", "KRC=0.5637", 12, 197, 23),
    ("BIQME", BIQME_PTS + BIQME_EXTRA, BIQME_RED, BIQME_UP, BIQME_LO, [.1, .74], [.1, .26, .42, .58, .74], "SRC=0.8309", "KRC=0.6305", 12, 197, 23),
]


def frame(pts):
    return pd.DataFrame(pts, columns=["v", "mos"])


def panel(name, pts, red, up, lo, dom, ticks, src, krc, tx, h, ty):
    xs = alt.Scale(domain=dom, nice=False, zero=False)
    ys = alt.Scale(domain=[1, 5], nice=False, zero=False)
    common = dict(tickSize=3, tickColor=GREY, tickWidth=0.8, offset=-3, domain=False, grid=False,
                  labelExpr="'' + datum.value", labelFont=FONT, labelFontSize=12.5, labelColor=GREY,
                  titleFont=FONT, titleFontSize=21, titleColor=GREY, titleFontWeight="normal")
    xa = alt.Axis(values=ticks, title=name, orient="bottom", labelPadding=9, titlePadding=6, labelFlush=False, labelOverlap=False, **common)
    ya = alt.Axis(values=Y_TICKS, title="MOS", orient="left", labelPadding=6, titlePadding=-1, **common)
    hid = dict(tickSize=3, tickColor=GREY, tickWidth=0.8, offset=-3, domain=False, grid=False, labels=False, title=None)
    xb = alt.Axis(values=ticks, orient="top", **hid)
    yb = alt.Axis(values=Y_TICKS, orient="right", **hid)

    dots = alt.Chart(frame(pts)).mark_point(shape="diamond", size=85, filled=False, stroke="#0000ff", strokeWidth=1.8, opacity=1).encode(
        x=alt.X("v:Q", scale=xs, axis=xa), y=alt.Y("mos:Q", scale=ys, axis=ya))
    frame_ticks = alt.Chart(frame(pts[:1])).mark_point(opacity=0).encode(
        x=alt.X("v:Q", scale=xs, axis=xb), y=alt.Y("mos:Q", scale=ys, axis=yb))

    def curve(data, color, width, dash=None):
        kw = dict(color=color, strokeWidth=width, interpolate="catmull-rom")
        if dash:
            kw["strokeDash"] = dash
        return alt.Chart(frame(data)).mark_line(**kw).encode(x=alt.X("v:Q", scale=xs, axis=None), y=alt.Y("mos:Q", scale=ys, axis=None))

    def note(text, y):
        return alt.Chart(pd.DataFrame({"t": [text]})).mark_text(align="left", baseline="middle", font=FONT, fontSize=18, color="#111111").encode(
            text="t:N", x=alt.value(tx), y=alt.value(y))

    return alt.layer(dots, frame_ticks, curve(up, "black", 1.8, [10, 5]), curve(lo, "black", 1.8, [10, 5]), curve(red, "#ff0000", 2),
                     note(src, ty), note(krc, ty + 24)).resolve_axis(x="independent", y="independent").properties(width=270, height=h)


chart = alt.concat(*[panel(*p) for p in PANELS], columns=4, spacing={"row": 76, "column": 74}, bounds="flush").configure_view(
    stroke="#808080", strokeWidth=1).properties(padding={"left": 0, "top": -2, "right": 5, "bottom": 0}, background="white")

chart.save("out.html", embed_options={"renderer": "svg", "actions": False})
